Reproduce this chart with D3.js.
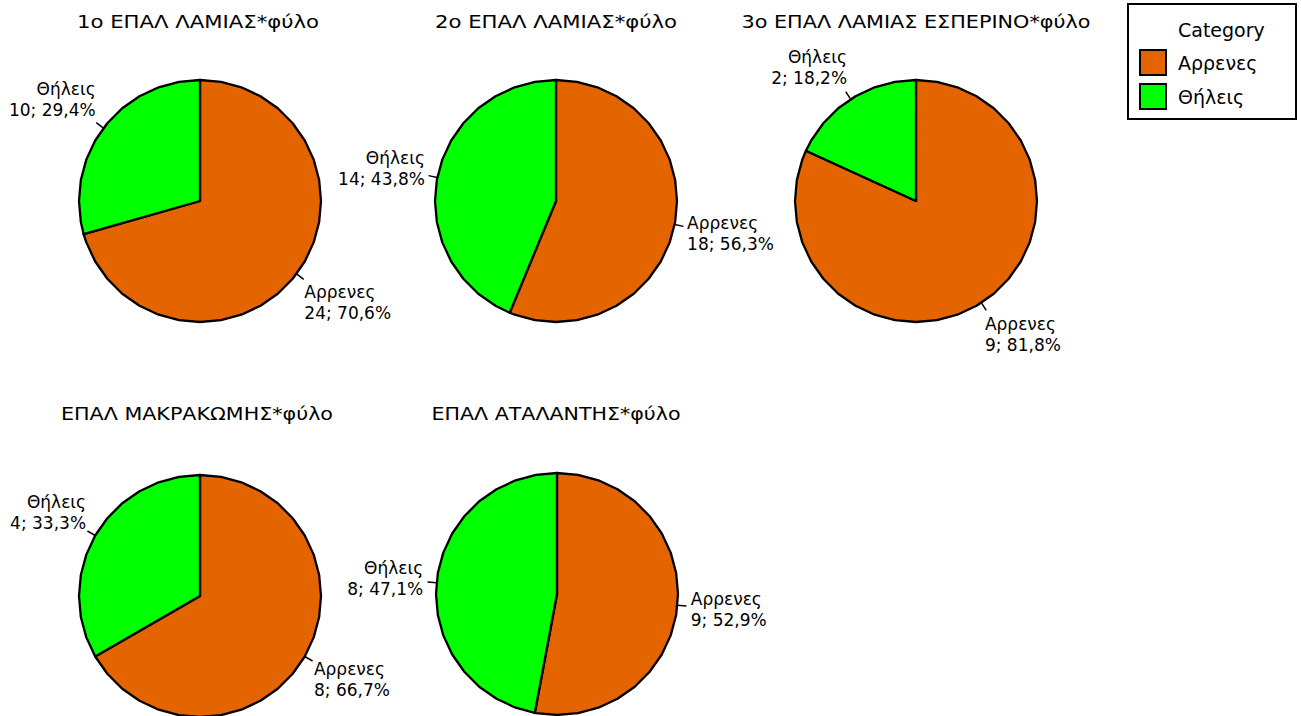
<!DOCTYPE html>
<html><head><meta charset="utf-8">
<script src="https://cdn.jsdelivr.net/npm/d3@7"></script>
<style>body{margin:0;background:#fff}svg{display:block}text{font-family:"DejaVu Sans",sans-serif;fill:#000}</style>
</head><body><svg id="c" width="1301" height="716"></svg>
<script>
const titles = ["1ο ΕΠΑΛ  ΛΑΜΙΑΣ*φύλο","2ο ΕΠΑΛ  ΛΑΜΙΑΣ*φύλο","3ο ΕΠΑΛ  ΛΑΜΙΑΣ ΕΣΠΕΡΙΝΟ*φύλο","ΕΠΑΛ  ΜΑΚΡΑΚΩΜΗΣ*φύλο","ΕΠΑΛ  ΑΤΑΛΑΝΤΗΣ*φύλο"];
const categories = ["Αρρενες","Θήλεις"];
const male = [24,18,9,8,9];
const female = [10,14,2,4,8];
const legendTitle = "Category";

const colors = d3.scaleOrdinal().domain(categories).range(["#E46400","#00FF00"]);
const layout = [
  {cx:200,cy:201,tx:198,ty:22,tw:242},
  {cx:556,cy:201,tx:556,ty:22,tw:242},
  {cx:916,cy:201,tx:916,ty:22,tw:349},
  {cx:200,cy:596,tx:197,ty:414,tw:272},
  {cx:557,cy:594,tx:556,ty:414,tw:249}
];
const R = 121;
const svg = d3.select("#c");
const loc = d3.formatLocale({decimal:",",thousands:".",grouping:[3],currency:["","€"]});
const pct = loc.format(".1%");
const pie = d3.pie().sort(null).value(d=>d.v);

function polyArc(a0,a1){
  const step = Math.PI/18;
  const p = d3.path();
  p.moveTo(0,0);
  const pts=[a0];
  let k=Math.floor(a0/step)+1;
  while(k*step<a1-1e-6){pts.push(k*step);k++;}
  pts.push(a1);
  pts.forEach(a=>p.lineTo(R*Math.sin(a),-R*Math.cos(a)));
  p.closePath();
  return p.toString();
}

titles.forEach((t,i)=>{
  const L = layout[i];
  const data = categories.map((c,j)=>({c, v: j===0?male[i]:female[i]}));
  const total = d3.sum(data,d=>d.v);
  svg.append("text").attr("x",L.tx).attr("y",L.ty+6).attr("text-anchor","middle")
    .attr("font-size",18).attr("textLength",L.tw).attr("lengthAdjust","spacingAndGlyphs").text(t);
  const g = svg.append("g").attr("transform",`translate(${L.cx},${L.cy})`);
  const arcs = pie(data);
  g.selectAll("path").data(arcs).join("path")
    .attr("d",d=>polyArc(d.startAngle,d.endAngle))
    .attr("fill",d=>colors(d.data.c)).attr("stroke","#000").attr("stroke-width",2.3).attr("stroke-linejoin","round");
  arcs.forEach(d=>{
    const m=(d.startAngle+d.endAngle)/2;
    const dx=Math.sin(m), dy=-Math.cos(m);
    g.append("line").attr("x1",dx*R).attr("y1",dy*R).attr("x2",dx*(R+9)).attr("y2",dy*(R+9))
      .attr("stroke","#000").attr("stroke-width",1.5);
    const s = dx>=0?1:-1;
    const lx = dx*(R+10) + s*(4-7*Math.abs(dy));
    const ly = dy*(R+10) + 23*Math.max(-1,Math.min(1,dy*1.6));
    const tx = g.append("text").attr("font-size",17).attr("text-anchor",s>0?"start":"end");
    tx.append("tspan").attr("x",lx).attr("y",ly-10.5+6).text(d.data.c);
    tx.append("tspan").attr("x",lx).attr("y",ly+10.5+6).text(`${d.data.v};  ${pct(d.data.v/total)}`);
  });
});

// legend
const lg = svg.append("g");
lg.append("rect").attr("x",1128).attr("y",4).attr("width",168).attr("height",115).attr("fill","#fff").attr("stroke","#000").attr("stroke-width",2);
lg.append("text").attr("x",1178).attr("y",37).attr("font-size",19).text(legendTitle);
categories.forEach((c,j)=>{
  lg.append("rect").attr("x",1140).attr("y",50+j*34).attr("width",26).attr("height",25)
    .attr("fill",colors(c)).attr("stroke","#000").attr("stroke-width",2);
  lg.append("text").attr("x",1178).attr("y",70+j*34).attr("font-size",19).text(c);
});
</script></body></html>
